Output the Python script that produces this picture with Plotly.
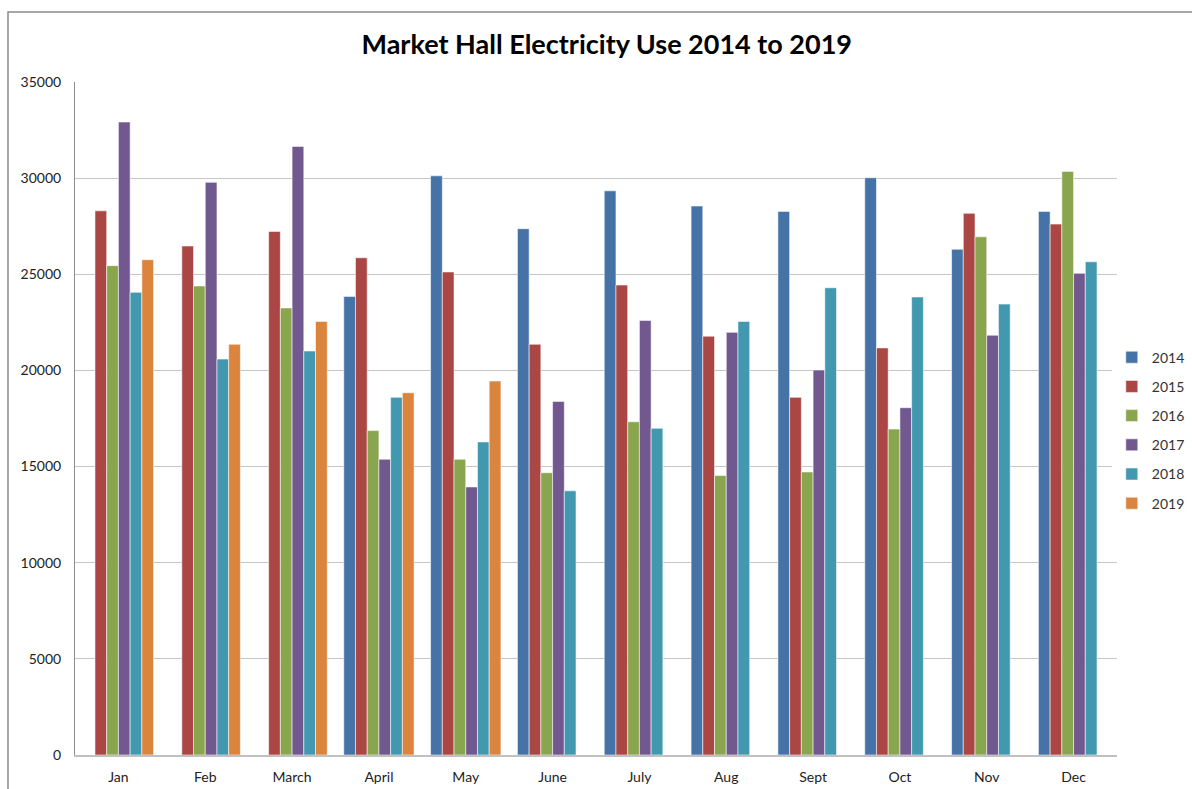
import plotly.graph_objects as go

months = ['Jan', 'Feb', 'March', 'April', 'May', 'June', 'July', 'Aug', 'Sept', 'Oct', 'Nov', 'Dec']

use_2014 = [None, None, None, 23850, 30120, 27370, 29340, 28550, 28270, 30020, 26300, 28270]
use_2015 = [28300, 26470, 27230, 25860, 25120, 21360, 24440, 21780, 18600, 21170, 28170, 27610]
use_2016 = [25450, 24390, 23250, 16870, 15380, 14680, 17330, 14530, 14720, 16950, 26950, 30350]
use_2017 = [32920, 29780, 31650, 15380, 13940, 18390, 22600, 21980, 20020, 18060, 21830, 25050]
use_2018 = [24060, 20590, 21010, 18600, 16280, 13740, 16990, 22550, 24300, 23820, 23450, 25650]
use_2019 = [25760, 21360, 22550, 18840, 19450, None, None, None, None, None, None, None]

years = ['2014', '2015', '2016', '2017', '2018', '2019']
series = [use_2014, use_2015, use_2016, use_2017, use_2018, use_2019]
colors = ['#4572A7', '#AA4643', '#89A54E', '#71588F', '#4198AF', '#DB843D']  # excel 2007 palette

fig = go.Figure()
for i, (yr, vals) in enumerate(zip(years, series)):
    fig.add_trace(go.Bar(
        x=months,
        y=vals,
        name=yr,
        legendgroup=yr,
        marker=dict(color=colors[i], line=dict(color='rgba(255,255,255,0.55)', width=1)),
    ))

font_family = 'Lato, "Open Sans", sans-serif'

fig.update_layout(
    width=1192,
    height=789,
    margin=dict(l=75, r=75, t=82, b=34, autoexpand=False),
    paper_bgcolor='white',
    plot_bgcolor='white',
    barmode='group',
    bargap=0.19,
    bargroupgap=0,
    font=dict(family=font_family, size=14, color='#222'),
    title=dict(
        text='<b>Market Hall Electricity Use 2014 to 2019</b>',
        x=0.509, xanchor='center', y=0.943, yanchor='middle',
        font=dict(size=27, color='black', family=font_family),
    ),
    legend=dict(
        x=0.995, xanchor='left', y=0.482, yanchor='middle',
        font=dict(size=14, color='#333'),
        traceorder='grouped', tracegroupgap=8,
        itemwidth=30,
    ),
    shapes=[dict(
        type='rect', xref='paper', yref='paper',
        x0=-0.0643, x1=1.3, y0=1.104, y1=-0.2,
        line=dict(color='#8a8a8a', width=1.5), fillcolor='rgba(0,0,0,0)',
        layer='below',
    )],
)

fig.update_yaxes(
    range=[0, 35000],
    dtick=5000,
    tickformat='d',
    showgrid=True,
    gridcolor='#C6C6C6',
    gridwidth=1,
    showline=True,
    linecolor='#8C8C8C',
    linewidth=1,
    ticklabelstandoff=10,
    zeroline=False,
    automargin=False,
)

fig.update_xaxes(
    showline=True,
    linecolor='#C0C0C0',
    linewidth=2,
    ticklabelstandoff=8,
    tickangle=0,
    automargin=False,
)

# drop the default 8px body margin so the figure fills the window without scrollbars
fig.write_html(
    "out.html",
    config={'displayModeBar': False},
    post_script="document.body.style.margin='0';",
)
